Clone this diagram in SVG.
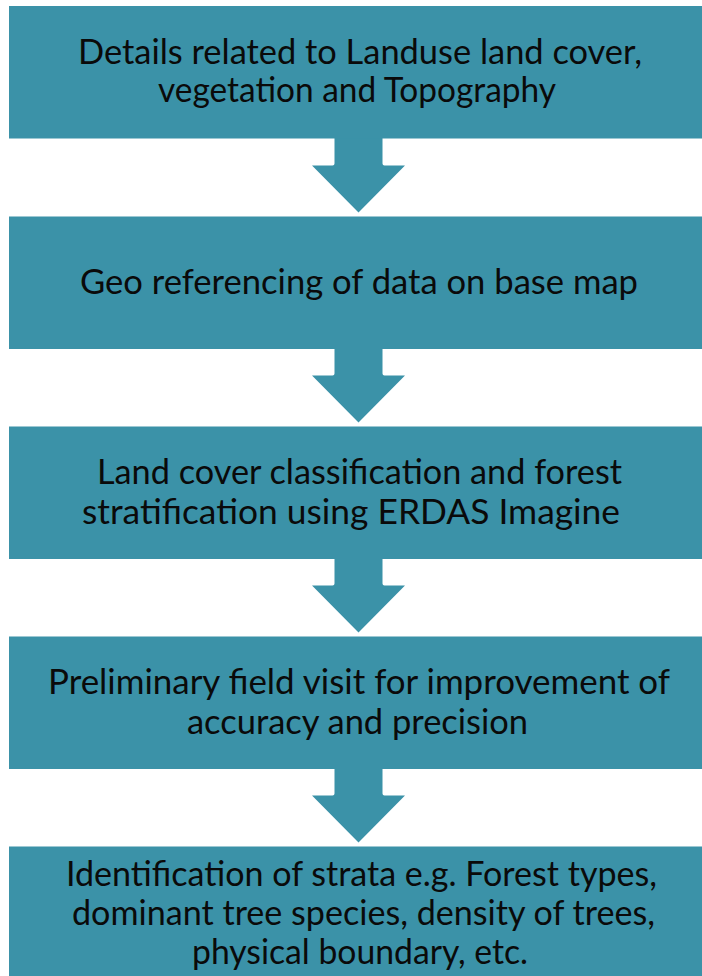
<svg xmlns="http://www.w3.org/2000/svg" width="702" height="976" viewBox="0 0 702 976">
<style>
.box{fill:#3b92a8}
.arr{fill:#3b92a8}
.t{font-family:Lato,"Liberation Sans",sans-serif;font-size:34px;fill:#0a0a0a;text-anchor:middle}
</style>
<defs>
<path id="arrow" d="M334.5,-2 L382.5,-2 L382.5,25 Q382.5,27 384.5,27 L405,27 L358.5,74 L312,27 L332.5,27 Q334.5,27 334.5,25 Z"/>
</defs>
<rect width="702" height="976" fill="#ffffff"/>
<g id="connectors">
<use href="#arrow" class="arr" transform="translate(0,138.5)"/>
<use href="#arrow" class="arr" transform="translate(0,348.5)"/>
<use href="#arrow" class="arr" transform="translate(0,558.5)"/>
<use href="#arrow" class="arr" transform="translate(0,768.5)"/>
</g>
<g id="node1">
<rect class="box" x="9" y="6" width="700" height="132.5"/>
<text class="t" x="360" y="64" textLength="564" lengthAdjust="spacingAndGlyphs">Details related to Landuse land cover,</text>
<text class="t" x="357" y="102" textLength="398" lengthAdjust="spacingAndGlyphs">vegetation and Topography</text>
</g>
<g id="node2">
<rect class="box" x="9" y="216.5" width="700" height="132.5"/>
<text class="t" x="359" y="294" textLength="558" lengthAdjust="spacingAndGlyphs">Geo referencing of data on base map</text>
</g>
<g id="node3">
<rect class="box" x="9" y="426.5" width="700" height="132.5"/>
<text class="t" x="359.5" y="484" textLength="525" lengthAdjust="spacingAndGlyphs">Land cover classification and forest</text>
<text class="t" x="351" y="523.5" textLength="538" lengthAdjust="spacingAndGlyphs">stratification using ERDAS Imagine</text>
</g>
<g id="node4">
<rect class="box" x="9" y="636.5" width="700" height="132.5"/>
<text class="t" x="359" y="694" textLength="622" lengthAdjust="spacingAndGlyphs">Preliminary field visit for improvement of</text>
<text class="t" x="357.5" y="733.5" textLength="341" lengthAdjust="spacingAndGlyphs">accuracy and precision</text>
</g>
<g id="node5">
<rect class="box" x="9" y="846.5" width="700" height="140"/>
<text class="t" x="361.5" y="886" textLength="591" lengthAdjust="spacingAndGlyphs">Identification of strata e.g. Forest types,</text>
<text class="t" x="363.5" y="925" textLength="583" lengthAdjust="spacingAndGlyphs">dominant tree species, density of trees,</text>
<text class="t" x="360" y="964" textLength="336" lengthAdjust="spacingAndGlyphs">physical boundary, etc.</text>
</g>
</svg>
